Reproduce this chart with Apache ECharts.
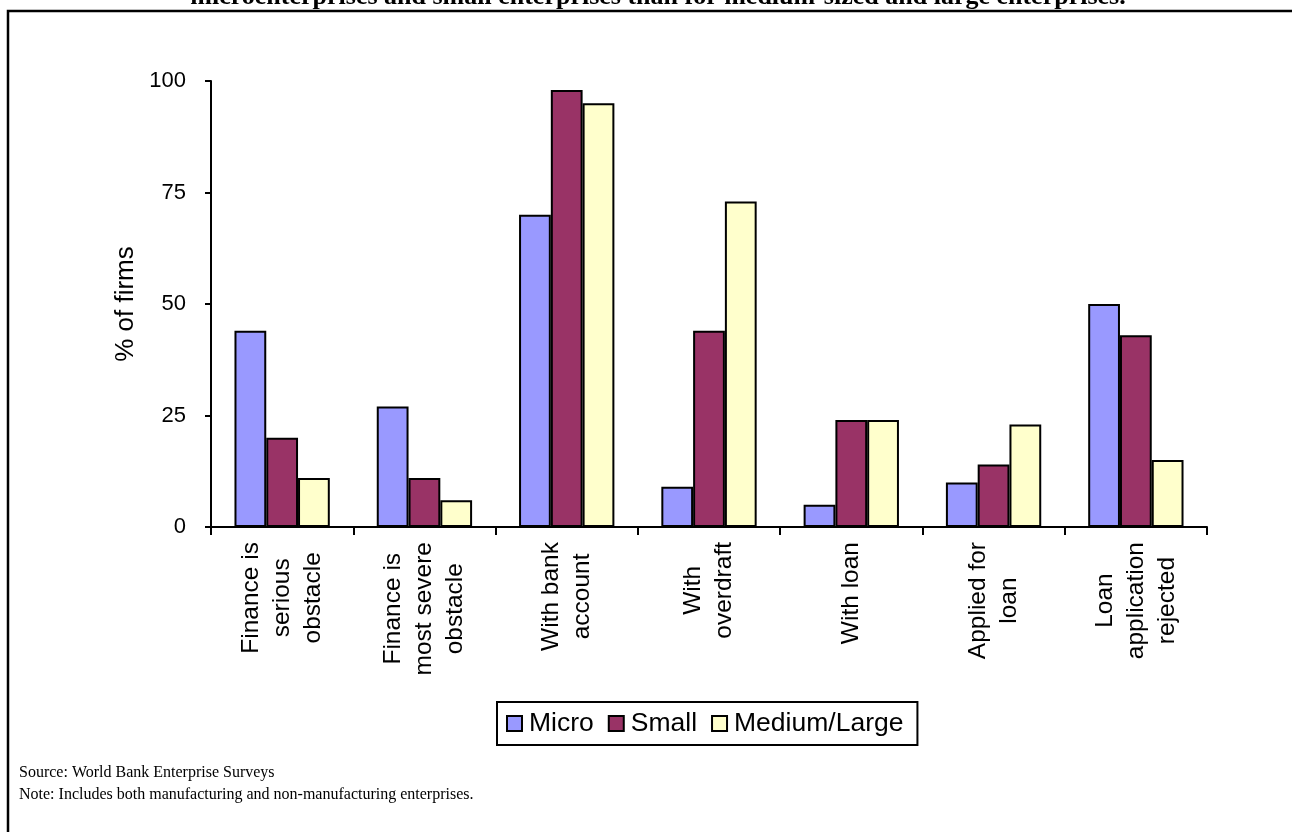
<!DOCTYPE html>
<html>
<head>
<meta charset="utf-8">
<title>Access to finance by firm size</title>
<script src="https://cdn.jsdelivr.net/npm/echarts@6/dist/echarts.min.js"></script>
<style>
  html, body { margin: 0; padding: 0; background: #fff; }
  #chart { width: 1292px; height: 832px; }
</style>
</head>
<body>
<div id="chart"></div>
<script>
// Indicator categories (line breaks as shown under the axis)
const categories = [
  'Finance is\nserious\nobstacle',
  'Finance is\nmost severe\nobstacle',
  'With bank\naccount',
  'With\noverdraft',
  'With loan',
  'Applied for\nloan',
  'Loan\napplication\nrejected'
];

// Share of firms (%) by enterprise size
const micro       = [44, 27, 70,  9,  5, 10, 50];
const small       = [20, 11, 98, 44, 24, 14, 43];
const mediumLarge = [11,  6, 95, 73, 24, 23, 15];

const seriesNames = ['Micro', 'Small', 'Medium/Large'];
const yTicks = [0, 25, 50, 75, 100];

const titleText = 'microenterprises and small enterprises than for medium-sized and large enterprises.';
const sourceText = 'Source: World Bank Enterprise Surveys';
const noteText = 'Note: Includes both manufacturing and non-manufacturing enterprises.';

const SANS = "'Liberation Sans', Arial, sans-serif";
const SERIF = "'Liberation Serif', 'Times New Roman', serif";
const colors = ['#9999FF', '#993366', '#FFFFCC'];

const chart = echarts.init(document.getElementById('chart'), null, { renderer: 'canvas' });

function barSeries(name, data, color) {
  return {
    name: name,
    type: 'bar',
    data: data,
    barGap: '0%',
    barCategoryGap: '33%',
    itemStyle: { color: color, borderColor: '#000', borderWidth: 2 },
    emphasis: { disabled: true }
  };
}

chart.setOption({
  animation: false,
  backgroundColor: '#fff',
  grid: { left: 211, right: 85, top: 81, bottom: 305, containLabel: false },
  legend: {
    data: seriesNames,
    left: 497,
    top: 702,
    orient: 'horizontal',
    padding: [7, 14, 7, 9],
    borderColor: '#000',
    borderWidth: 2,
    backgroundColor: '#fff',
    itemWidth: 15,
    itemHeight: 15,
    itemGap: 14,
    icon: 'rect',
    itemStyle: { borderColor: '#000', borderWidth: 2 },
    textStyle: { fontFamily: SANS, fontSize: 26.5, color: '#000', lineHeight: 29, padding: [0, 0, 0, 2] }
  },
  xAxis: {
    type: 'category',
    data: categories,
    boundaryGap: true,
    axisLine: { show: true, lineStyle: { color: '#000', width: 2 } },
    axisTick: { show: true, alignWithLabel: false, length: 8, inside: false, lineStyle: { color: '#000', width: 2 } },
    axisLabel: {
      interval: 0,
      rotate: 90,
      margin: 15,
      color: '#000',
      formatter: function (v) { return '{c|' + v + '}'; },
      rich: {
        c: { fontFamily: SANS, fontSize: 24.5, lineHeight: 31, align: 'center', color: '#000' }
      }
    },
    splitLine: { show: false }
  },
  yAxis: {
    type: 'value',
    min: yTicks[0],
    max: yTicks[yTicks.length - 1],
    interval: 25,
    name: '% of firms',
    nameLocation: 'middle',
    nameRotate: 90,
    nameGap: 69,
    nameTextStyle: { fontFamily: SANS, fontSize: 26, color: '#000' },
    axisLine: { show: true, lineStyle: { color: '#000', width: 2 } },
    axisTick: { show: true, length: 6, inside: false, lineStyle: { color: '#000', width: 2 } },
    axisLabel: { fontFamily: SANS, fontSize: 22, color: '#000', margin: 25 },
    splitLine: { show: false }
  },
  series: [
    barSeries(seriesNames[0], micro, colors[0]),
    barSeries(seriesNames[1], small, colors[1]),
    barSeries(seriesNames[2], mediumLarge, colors[2])
  ],
  graphic: [
    {
      type: 'rect',
      silent: true,
      z: -1,
      shape: { x: 8, y: 11, width: 1320, height: 900 },
      style: { fill: 'none', stroke: '#000', lineWidth: 2.5 }
    },
    {
      type: 'text',
      silent: true,
      x: 658,
      y: 10,
      style: {
        text: titleText,
        fontFamily: SERIF,
        fontWeight: 'bold',
        fontSize: 26,
        fill: '#000',
        align: 'center',
        verticalAlign: 'bottom'
      }
    },
    {
      type: 'text',
      silent: true,
      x: 19,
      y: 773,
      style: { text: sourceText, fontFamily: SERIF, fontSize: 16, fill: '#000', align: 'left', verticalAlign: 'middle' }
    },
    {
      type: 'text',
      silent: true,
      x: 19,
      y: 795,
      style: { text: noteText, fontFamily: SERIF, fontSize: 16, fill: '#000', align: 'left', verticalAlign: 'middle' }
    }
  ]
});
</script>
</body>
</html>
